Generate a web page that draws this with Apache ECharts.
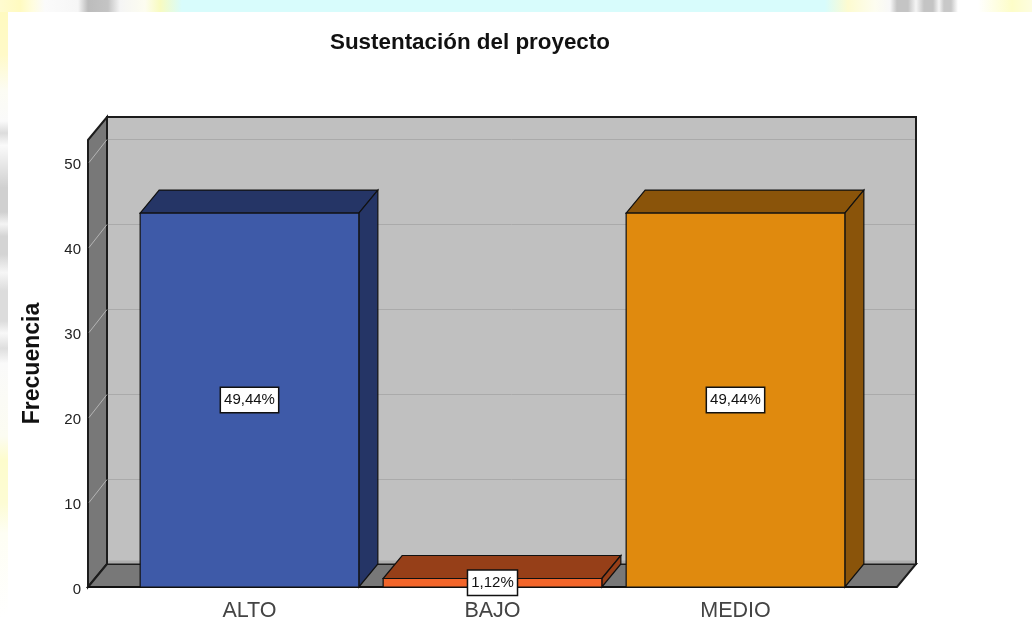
<!DOCTYPE html>
<html>
<head>
<meta charset="utf-8">
<style>html,body{margin:0;padding:0;background:#fff}#c{width:1032px;height:618px}</style>
<script src="https://cdn.jsdelivr.net/npm/echarts@6/dist/echarts.min.js"></script>
</head>
<body>
<div id="c"></div>
<script>
const categories = ['ALTO', 'BAJO', 'MEDIO'];
const frequencies = [44, 1, 44];
const percentLabels = ['49,44%', '1,12%', '49,44%'];
const gridTicks = [0, 10, 20, 30, 40, 50];
const chartTitle = 'Sustentación del proyecto';
const yAxisTitle = 'Frecuencia';

const frontColors = ['#3e5aa8', '#f2652a', '#e08a0e'];
const topColors = ['#253566', '#963f18', '#8a540a'];
const axisTop = 52.6;
const dx = 19, dy = 23, sidePad = 40;
const FONT = '"Liberation Sans", Arial, sans-serif';

function poly(points, fill, stroke, lw) {
  return { type: 'polygon', shape: { points }, style: { fill, stroke: stroke || 'none', lineWidth: lw || 0, lineJoin: 'miter' } };
}
function line(x1, y1, x2, y2, stroke, lw) {
  return { type: 'line', shape: { x1, y1, x2, y2 }, style: { stroke, lineWidth: lw } };
}

function renderWalls(params, api) {
  const cs = params.coordSys;
  const l = cs.x - sidePad, r = cs.x + cs.width + sidePad;
  const y0 = api.coord([0, 0])[1];
  const yT = api.coord([0, axisTop])[1];
  const border = '#1c1c1c';
  return { type: 'group', children: [
    poly([[l + dx, yT - dy], [r + dx, yT - dy], [r + dx, y0 - dy], [l + dx, y0 - dy]], '#c0c0c0', border, 2),
    poly([[l, yT], [l + dx, yT - dy], [l + dx, y0 - dy], [l, y0]], '#787878', border, 2),
    poly([[l, y0], [l + dx, y0 - dy], [r + dx, y0 - dy], [r, y0]], '#787878', border, 2),
    line(l + dx + 1, y0 - dy - 2, r + dx - 1, y0 - dy - 2, '#adadad', 3),
    line(l, y0, r, y0, '#111', 2)
  ] };
}

function renderGrid(params, api) {
  const cs = params.coordSys;
  const l = cs.x - sidePad, r = cs.x + cs.width + sidePad;
  const y = Math.round(api.coord([0, api.value(1)])[1]) + 0.5;
  return { type: 'group', children: [
    line(l + 1, y, l + dx, y - dy, '#b4b4b4', 1),
    line(l + dx + 1, y - dy, r + dx - 1, y - dy, '#aaaaaa', 1)
  ] };
}

function renderBar(params, api) {
  const i = api.value(0), v = api.value(1);
  const c = api.coord([i, v]);
  const base = api.coord([i, 0])[1];
  const hw = api.size([1, 0])[0] * 0.45;
  const x1 = c[0] - hw, x2 = c[0] + hw, y = c[1];
  const border = '#111';
  const mid = api.coord([i, v / 2]);
  return { type: 'group', children: [
    poly([[x1, y], [x1 + dx, y - dy], [x2 + dx, y - dy], [x2, y]], topColors[i], border, 1.2),
    poly([[x2, y], [x2 + dx, y - dy], [x2 + dx, base - dy], [x2, base]], topColors[i], border, 1.2),
    poly([[x1, y], [x2, y], [x2, base], [x1, base]], frontColors[i], border, 1.2),
    { type: 'text', z2: 10, style: {
      text: percentLabels[i], x: mid[0], y: mid[1], align: 'center', verticalAlign: 'middle',
      font: '15px ' + FONT, fill: '#111', backgroundColor: '#fff',
      borderColor: '#111', borderWidth: 1.5, padding: [6, 3, 3, 3]
    } }
  ] };
}

const topW = 1032;
const topStops = [
  [0, '#fffbd0'], [20, '#fffac0'], [33, '#fffde0'], [45, '#fbfbfb'], [78, '#f6f6f6'],
  [88, '#bcbcbc'], [108, '#c4c4c4'], [120, '#f5f5f5'], [145, '#fdfdf0'], [160, '#f8fbc0'],
  [182, '#d8fcfc'], [825, '#d8fcfc'], [848, '#fdfbd0'], [875, '#fdfdf0'], [890, '#f8f8f8'],
  [897, '#c4c4c4'], [908, '#c4c4c4'], [916, '#f5f5f5'], [924, '#c4c4c4'], [933, '#c4c4c4'], [939, '#f5f5f5'],
  [944, '#c8c8c8'], [951, '#c8c8c8'], [958, '#ffffff'], [978, '#ffffff'], [1012, '#fdfdc8'], [1032, '#fdfde0']
].map(s => ({ offset: s[0] / topW, color: s[1] }));
const leftStops = [
  [0, '#fffac0'], [0.07, '#fffac8'], [0.13, '#fcfcf4'], [0.18, '#fafafa'], [0.2, '#dcdcdc'],
  [0.22, '#fafafa'], [0.29, '#d0d0d0'], [0.33, '#d0d0d0'], [0.35, '#f4f4f4'], [0.37, '#d4d4d4'],
  [0.40, '#d4d4d4'], [0.43, '#f6f6f6'], [0.46, '#dcdcdc'], [0.51, '#dcdcdc'], [0.53, '#f8f8f8'],
  [0.555, '#dedede'], [0.58, '#fafafa'], [0.70, '#fcfcf2'], [0.74, '#fdfccc'], [0.81, '#fdfcd4'],
  [0.86, '#fefef4'], [1, '#ffffff']
].map(s => ({ offset: s[0], color: s[1] }));

const chart = echarts.init(document.getElementById('c'), null, { renderer: 'canvas' });
chart.setOption({
  animation: false,
  backgroundColor: '#fff',
  title: {
    text: chartTitle, left: 330, top: 32,
    textStyle: { fontFamily: FONT, fontWeight: 'bold', fontSize: 22.4, color: '#111' },
    padding: 0
  },
  graphic: [
    { type: 'rect', z: -1, shape: { x: 0, y: 0, width: topW, height: 12 }, style: { fill: { type: 'linear', x: 0, y: 0, x2: 1, y2: 0, colorStops: topStops } } },
    { type: 'rect', z: -1, shape: { x: 0, y: 12, width: 8, height: 606 }, style: { fill: { type: 'linear', x: 0, y: 0, x2: 0, y2: 1, colorStops: leftStops } } }
  ],
  grid: { left: 128, right: 175, top: 140, bottom: 31, containLabel: false, outerBoundsMode: 'none' },
  xAxis: {
    type: 'category', data: categories,
    axisLine: { show: false }, axisTick: { show: false },
    axisLabel: { fontFamily: FONT, fontSize: 21.5, color: '#444', margin: 13 }
  },
  yAxis: {
    type: 'value', min: 0, max: axisTop, interval: 10, offset: 40,
    name: yAxisTitle, nameLocation: 'middle', nameGap: 44, nameRotate: 90,
    nameTextStyle: { fontFamily: FONT, fontWeight: 'bold', fontSize: 23, color: '#111' },
    axisLine: { show: false }, axisTick: { show: false }, splitLine: { show: false },
    axisLabel: { fontFamily: FONT, fontSize: 15, color: '#222', margin: 7, showMaxLabel: false, padding: [3, 0, 0, 0], verticalAlign: 'top', lineHeight: 0 }
  },
  series: [
    { type: 'custom', z: 1, silent: true, clip: false, renderItem: renderWalls, data: [[categories[0], 0]], encode: { x: 0, y: 1 } },
    { type: 'custom', z: 2, silent: true, clip: false, renderItem: renderGrid, data: gridTicks.slice(1).map(t => [categories[0], t]), encode: { x: 0, y: 1 } },
    { type: 'custom', z: 3, silent: true, clip: false, renderItem: renderBar, data: categories.map((c, i) => [c, frequencies[i]]), encode: { x: 0, y: 1 } }
  ]
});
</script>
</body>
</html>
